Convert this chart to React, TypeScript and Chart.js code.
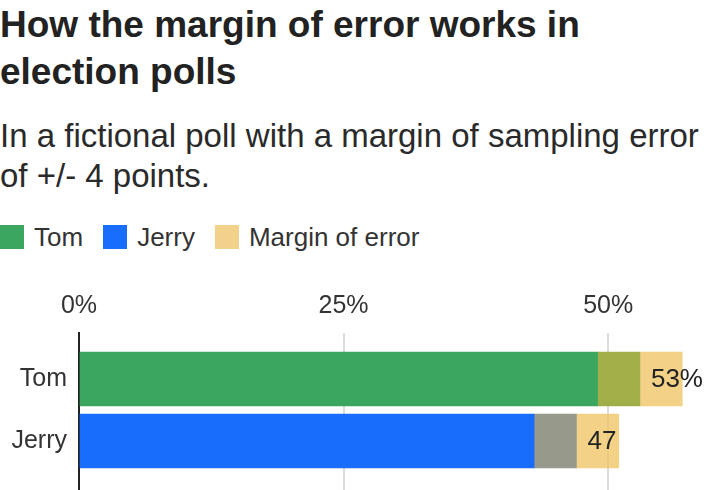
import React, { useEffect, useRef } from "react";
import { Chart, registerables } from "chart.js";

Chart.register(...registerables);

const categories = ["Tom", "Jerry"];
const pollValues = [53, 47];
const marginOfError = [4, 4];
const xTicks = [0, 25, 50];

const candidateColors = ["#3aa65f", "#186efb"];
const overlapColors = ["#a2ae48", "#979a8a"];
const marginColor = "rgba(240, 199, 106, 0.8)";

const FONT = "'Liberation Sans', Arial, sans-serif";

const legendItems = [
  { label: "Tom", color: "#3aa65f" },
  { label: "Jerry", color: "#186efb" },
  { label: "Margin of error", color: "#f2d18a" },
];

const App: React.FC = () => {
  const chartRef = useRef<HTMLCanvasElement | null>(null);

  useEffect(() => {
    document.body.style.margin = "0";
    if (!chartRef.current) return;
    const ctx = chartRef.current.getContext("2d");
    if (!ctx) return;

    // value labels after the poll number
    const valueLabels = {
      id: "valueLabels",
      afterDatasetsDraw(chart: any) {
        const { ctx, scales } = chart;
        ctx.save();
        ctx.font = `26px ${FONT}`;
        ctx.fillStyle = "#222";
        ctx.textAlign = "left";
        ctx.textBaseline = "middle";
        pollValues.forEach((v, i) => {
          const x = scales.x.getPixelForValue(v) + 11;
          const y = scales.y.getPixelForValue(i);
          ctx.fillText(i === 0 ? `${v}%` : `${v}`, x, y + 1);
        });
        ctx.restore();
      },
    };

    const chart = new Chart(ctx, {
      type: "bar",
      data: {
        datasets: [
          {
            label: "Candidate",
            data: pollValues.map((v, i) => ({ x: [0, v - marginOfError[i]], y: i })) as any,
            backgroundColor: candidateColors,
          },
          {
            label: "Overlap",
            data: pollValues.map((v, i) => ({ x: [v - marginOfError[i], v], y: i })) as any,
            backgroundColor: overlapColors,
          },
          {
            label: "Margin of error",
            data: pollValues.map((v, i) => ({ x: [v, v + marginOfError[i]], y: i })) as any,
            backgroundColor: marginColor,
          },
        ],
      },
      options: {
        indexAxis: "y",
        animation: false,
        responsive: false,
        grouped: false,
        barThickness: 54,
        borderSkipped: false,
        layout: { padding: { left: 0, right: 2, top: 0, bottom: 0 } },
        plugins: {
          legend: { display: false },
          tooltip: { enabled: false },
        },
        scales: {
          x: {
            type: "linear",
            position: "top",
            min: 0,
            max: 60,
            afterBuildTicks: (scale: any) => {
              scale.ticks = xTicks.map((v) => ({ value: v }));
            },
            afterFit: (scale: any) => {
              scale.height = 63;
              scale.paddingLeft = 0;
              scale.paddingRight = 0;
            },
            ticks: {
              callback: (v: any) => `${v}%`,
              font: { family: FONT, size: 25 },
              color: "#333",
              padding: 12,
              maxRotation: 0,
            },
            grid: {
              color: (c: any) => (c.tick && c.tick.value === 0 ? "rgba(0,0,0,0)" : "#dcdcdc"),
              lineWidth: 2,
              drawTicks: false,
            },
            border: { display: false },
          },
          y: {
            type: "linear",
            reverse: true,
            offset: false,
            min: -0.742,
            max: 1.79,
            afterBuildTicks: (scale: any) => {
              scale.ticks = categories.map((_, i) => ({ value: i }));
            },
            afterFit: (scale: any) => {
              scale.width = 79;
              scale.paddingTop = 0;
              scale.paddingBottom = 0;
            },
            ticks: {
              callback: (v: any) => categories[v as number] ?? "",
              font: { family: FONT, size: 25 },
              color: "#333",
              padding: 12,
            },
            grid: { display: false, drawTicks: false },
            border: { display: true, color: "#222", width: 2 },
          },
        },
      } as any,
      plugins: [valueLabels],
    });

    return () => chart.destroy();
  }, []);

  return (
    <div style={{ width: 716, height: 490, fontFamily: FONT, color: "#222", position: "relative", overflow: "hidden" }}>
      <div style={{ fontSize: 37, fontWeight: 700, lineHeight: "47px", margin: 0, paddingTop: 1 }}>
        How the margin of error works in
        <br />
        election polls
      </div>
      <div style={{ fontSize: 33, lineHeight: "40px", marginTop: 21, color: "#2a2a2a" }}>
        In a fictional poll with a margin of sampling error
        <br />
        of +/- 4 points.
      </div>
      <div style={{ display: "flex", alignItems: "center", marginTop: 29, height: 24, fontSize: 26, color: "#333" }}>
        {legendItems.map((item) => (
          <div key={item.label} style={{ display: "flex", alignItems: "center", marginRight: 20 }}>
            <span style={{ display: "inline-block", width: 24, height: 24, background: item.color, marginRight: 10 }} />
            <span>{item.label}</span>
          </div>
        ))}
      </div>
      <div style={{ position: "absolute", left: 0, top: 270, width: 716, height: 220 }}>
        <canvas ref={chartRef} width={716} height={220} style={{ width: 716, height: 220 }} />
      </div>
    </div>
  );
};

export default App;
